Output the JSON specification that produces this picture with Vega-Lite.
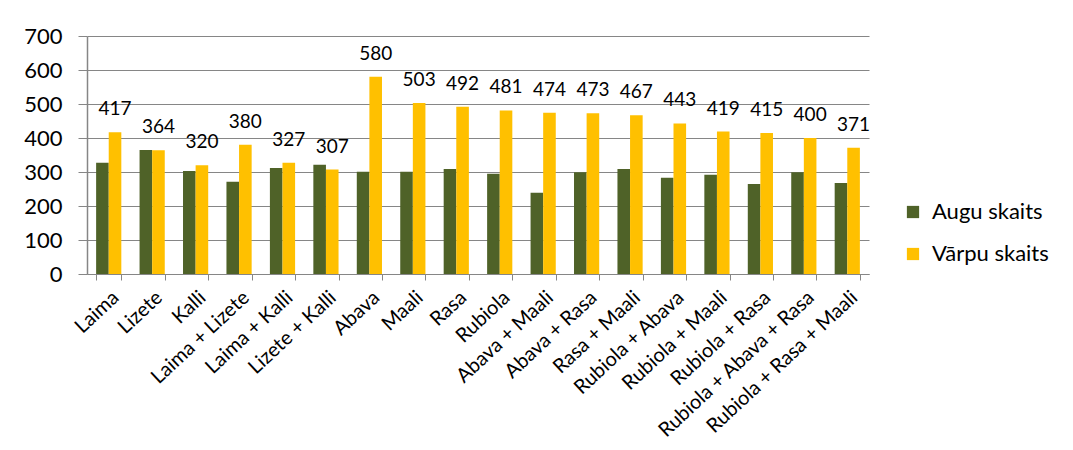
{
  "$schema": "https://vega.github.io/schema/vega-lite/v6.json",
  "width": 782,
  "height": 238,
  "autosize": "none",
  "padding": {"left": 87, "top": 36, "right": 204, "bottom": 176},
  "config": {"font": "Lato", "view": {"stroke": null}},
  "data": {
    "values": [
      {"variety": "Laima", "series": "Augu skaits", "value": 327},
      {"variety": "Laima", "series": "Vārpu skaits", "value": 417},
      {"variety": "Lizete", "series": "Augu skaits", "value": 365},
      {"variety": "Lizete", "series": "Vārpu skaits", "value": 364},
      {"variety": "Kalli", "series": "Augu skaits", "value": 303},
      {"variety": "Kalli", "series": "Vārpu skaits", "value": 320},
      {"variety": "Laima + Lizete", "series": "Augu skaits", "value": 271},
      {"variety": "Laima + Lizete", "series": "Vārpu skaits", "value": 380},
      {"variety": "Laima + Kalli", "series": "Augu skaits", "value": 312},
      {"variety": "Laima + Kalli", "series": "Vārpu skaits", "value": 327},
      {"variety": "Lizete + Kalli", "series": "Augu skaits", "value": 321},
      {"variety": "Lizete + Kalli", "series": "Vārpu skaits", "value": 307},
      {"variety": "Abava", "series": "Augu skaits", "value": 301},
      {"variety": "Abava", "series": "Vārpu skaits", "value": 580},
      {"variety": "Maali", "series": "Augu skaits", "value": 301},
      {"variety": "Maali", "series": "Vārpu skaits", "value": 503},
      {"variety": "Rasa", "series": "Augu skaits", "value": 309},
      {"variety": "Rasa", "series": "Vārpu skaits", "value": 492},
      {"variety": "Rubiola", "series": "Augu skaits", "value": 295},
      {"variety": "Rubiola", "series": "Vārpu skaits", "value": 481},
      {"variety": "Abava + Maali", "series": "Augu skaits", "value": 239},
      {"variety": "Abava + Maali", "series": "Vārpu skaits", "value": 474},
      {"variety": "Abava + Rasa", "series": "Augu skaits", "value": 299},
      {"variety": "Abava + Rasa", "series": "Vārpu skaits", "value": 473},
      {"variety": "Rasa + Maali", "series": "Augu skaits", "value": 309},
      {"variety": "Rasa + Maali", "series": "Vārpu skaits", "value": 467},
      {"variety": "Rubiola + Abava", "series": "Augu skaits", "value": 283},
      {"variety": "Rubiola + Abava", "series": "Vārpu skaits", "value": 443},
      {"variety": "Rubiola + Maali", "series": "Augu skaits", "value": 292},
      {"variety": "Rubiola + Maali", "series": "Vārpu skaits", "value": 419},
      {"variety": "Rubiola + Rasa", "series": "Augu skaits", "value": 265},
      {"variety": "Rubiola + Rasa", "series": "Vārpu skaits", "value": 415},
      {"variety": "Rubiola + Abava + Rasa", "series": "Augu skaits", "value": 299},
      {"variety": "Rubiola + Abava + Rasa", "series": "Vārpu skaits", "value": 400},
      {"variety": "Rubiola + Rasa + Maali", "series": "Augu skaits", "value": 268},
      {"variety": "Rubiola + Rasa + Maali", "series": "Vārpu skaits", "value": 371}
    ]
  },
  "encoding": {
    "x": {
      "field": "variety",
      "type": "nominal",
      "sort": null,
      "scale": {"paddingInner": 0.42, "paddingOuter": 0.21},
      "axis": {
        "title": null,
        "labelAngle": -43,
        "labelAlign": "right",
        "labelBaseline": "top",
        "labelFontSize": 20,
        "labelLimit": 400,
        "labelColor": "#000000",
        "labelPadding": 7,
        "domainColor": "#868686",
        "tickColor": "#868686",
        "tickSize": 6,
        "tickBand": "extent",
        "grid": false
      }
    },
    "xOffset": {"field": "series", "type": "nominal", "sort": ["Augu skaits", "Vārpu skaits"], "scale": {"paddingInner": 0}},
    "y": {
      "field": "value",
      "type": "quantitative",
      "scale": {"domain": [0, 700], "nice": false},
      "axis": {
        "title": null,
        "values": [0, 100, 200, 300, 400, 500, 600, 700],
        "labelFontSize": 22,
        "labelColor": "#000000",
        "labelPadding": 16,
        "tickSize": 9,
        "tickColor": "#868686",
        "domainColor": "#868686",
        "domainWidth": 1.5,
        "gridColor": "#868686",
        "gridOpacity": 1
      }
    }
  },
  "layer": [
    {
      "mark": {"type": "bar"},
      "encoding": {
        "color": {
          "field": "series",
          "type": "nominal",
          "scale": {"domain": ["Augu skaits", "Vārpu skaits"], "range": ["#4F6228", "#FFC000"]},
          "legend": {
            "title": null,
            "orient": "none",
            "legendX": 815,
            "legendY": 165,
            "symbolType": "square",
            "symbolSize": 150,
            "symbolStrokeWidth": 0,
            "labelFontSize": 22,
            "labelColor": "#000000",
            "labelOffset": 8,
            "rowPadding": 20
          }
        }
      }
    },
    {
      "transform": [{"filter": {"field": "series", "equal": "Vārpu skaits"}}],
      "mark": {"type": "text", "baseline": "bottom", "dy": -13, "fontSize": 19, "color": "#000000"},
      "encoding": {"text": {"field": "value", "type": "quantitative"}}
    }
  ]
}
